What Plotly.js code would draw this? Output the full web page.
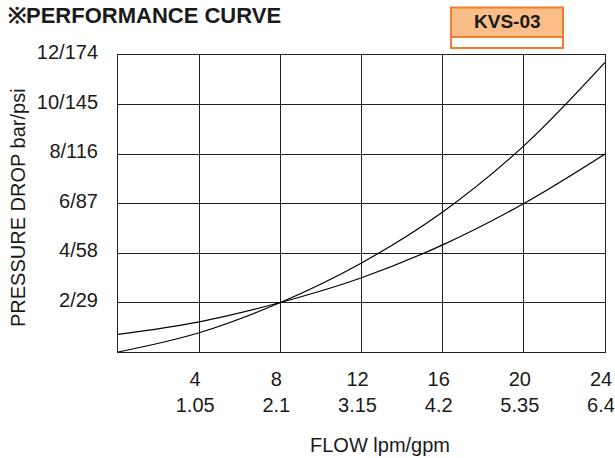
<!DOCTYPE html>
<html>
<head>
<meta charset="utf-8">
<script src="https://cdn.plot.ly/plotly-3.0.1.min.js"></script>
<style>html,body{margin:0;padding:0;background:#fff;}#chart{width:615px;height:458px;}</style>
</head>
<body>
<div id="chart"></div>
<script>
// Flow (lpm) and pressure drop (bar)
const flowA = [0, 4, 8, 12, 16, 20, 24];
const dropA = [0, 0.78, 2.0, 3.6, 5.66, 8.33, 11.7];
const flowB = [0, 4, 8, 12, 16, 20, 24];
const dropB = [0.71, 1.22, 2.0, 3.0, 4.33, 6.0, 8.0];

const xTickVals = [4, 8, 12, 16, 20, 24];
const xTickLpm = ['4', '8', '12', '16', '20', '24'];
const xTickGpm = ['1.05', '2.1', '3.15', '4.2', '5.35', '6.4'];
const yTickVals = [2, 4, 6, 8, 10, 12];
const yTickText = ['2/29', '4/58', '6/87', '8/116', '10/145', '12/174'];

const chartTitle = '※PERFORMANCE CURVE';
const modelName = 'KVS-03';
const xTitle = 'FLOW lpm/gpm';
const yTitle = 'PRESSURE DROP bar/psi';

const FONT = 'Liberation Sans, Arial, Helvetica, sans-serif';
const ORANGE = '#F47C2C';
const ORANGE_FILL = '#FBBE88';

// plot area in pixels: x 118..605, y 55..352
const L = 118, R = 605, T = 55, B = 352, W = 615, H = 458;
const px = v => (v - L) / (R - L);
const py = v => (B - v) / (B - T);

const traces = [
  {x: flowA, y: dropA, mode: 'lines', line: {color: '#000', width: 1.2, shape: 'spline', smoothing: 1}, hoverinfo: 'skip'},
  {x: flowB, y: dropB, mode: 'lines', line: {color: '#000', width: 1.2, shape: 'spline', smoothing: 1}, hoverinfo: 'skip'}
];

const layout = {
  width: W, height: H,
  margin: {l: L, r: W - R, t: T, b: H - B, pad: 0},
  paper_bgcolor: '#fff', plot_bgcolor: '#fff',
  showlegend: false,
  font: {family: FONT, size: 20, color: '#1a1a1a'},
  xaxis: {
    range: [0, 24], tickmode: 'array', tickvals: xTickVals,
    ticktext: xTickLpm.map((t, i) => t + '<br>' + xTickGpm[i]),
    ticks: 'outside', ticklen: 9, tickcolor: 'rgba(0,0,0,0)',
    ticklabelshift: -4, ticklabeloverflow: 'allow',
    showgrid: true, gridcolor: '#222', gridwidth: 1,
    showline: true, linecolor: '#222', linewidth: 1, mirror: true,
    zeroline: false, tickfont: {size: 20, family: FONT, color: '#1a1a1a'}
  },
  yaxis: {
    range: [0, 12], tickmode: 'array', tickvals: yTickVals, ticktext: yTickText,
    ticks: 'outside', ticklen: 15, tickcolor: 'rgba(0,0,0,0)',
    ticklabelshift: -3, ticklabeloverflow: 'allow',
    showgrid: true, gridcolor: '#222', gridwidth: 1,
    showline: true, linecolor: '#222', linewidth: 1, mirror: true,
    zeroline: false, tickfont: {size: 20, family: FONT, color: '#1a1a1a'}
  },
  shapes: [
    {type: 'rect', xref: 'paper', yref: 'paper', x0: px(451), x1: px(563), y0: py(37), y1: py(7.5),
     fillcolor: ORANGE_FILL, line: {color: ORANGE, width: 2}},
    {type: 'rect', xref: 'paper', yref: 'paper', x0: px(451), x1: px(563), y0: py(48), y1: py(37),
     fillcolor: '#fff', line: {color: ORANGE, width: 2}}
  ],
  annotations: [
    {text: '<b>' + chartTitle + '</b>', xref: 'paper', yref: 'paper', x: px(6), y: py(1),
     xanchor: 'left', yanchor: 'top', showarrow: false,
     font: {family: FONT, size: 22, color: '#1a1a1a'}},
    {text: '<b>' + modelName + '</b>', xref: 'paper', yref: 'paper', x: px(507), y: py(22),
     xanchor: 'center', yanchor: 'middle', showarrow: false,
     font: {family: FONT, size: 19, color: '#1a1a1a'}},
    {text: xTitle, xref: 'paper', yref: 'paper', x: px(380), y: py(445),
     xanchor: 'center', yanchor: 'middle', showarrow: false,
     font: {family: FONT, size: 20, color: '#1a1a1a'}},
    {text: yTitle, xref: 'paper', yref: 'paper', x: px(18), y: py(208), textangle: -90,
     xanchor: 'center', yanchor: 'middle', showarrow: false,
     font: {family: FONT, size: 20, color: '#1a1a1a'}}
  ]
};

Plotly.newPlot('chart', traces, layout, {staticPlot: true, displayModeBar: false});
</script>
</body>
</html>
